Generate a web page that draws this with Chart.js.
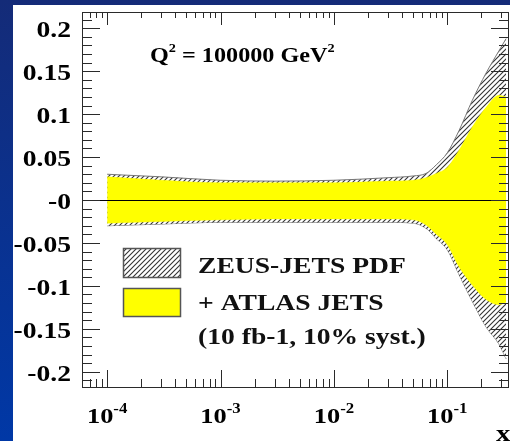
<!DOCTYPE html>
<html>
<head>
<meta charset="utf-8">
<script src="https://cdn.jsdelivr.net/npm/chart.js@4.4.1/dist/chart.umd.min.js"></script>
<style>
  html, body { margin: 0; padding: 0; background: #0a2f8f; }
  #wrap { width: 510px; height: 441px; }
</style>
</head>
<body>
<div id="wrap"><canvas id="c" width="510" height="441"></canvas></div>
<script>
// ─── data ───────────────────────────────────────────────────────
const xValues   = [1e-4, 3e-4, 1e-3, 3e-3, 0.01, 0.03, 0.05, 0.065, 0.08, 0.1, 0.127, 0.166, 0.22, 0.286, 0.33];
const zeusUp    = [0.030, 0.027, 0.023, 0.022, 0.023, 0.026, 0.028, 0.031, 0.041, 0.055, 0.081, 0.116, 0.148, 0.174, 0.188];
const zeusDown  = [-0.030, -0.028, -0.026, -0.026, -0.026, -0.026, -0.027, -0.033, -0.045, -0.058, -0.087, -0.118, -0.148, -0.168, -0.185];
const atlasUp   = [0.027, 0.023, 0.020, 0.020, 0.020, 0.022, 0.023, 0.026, 0.031, 0.038, 0.058, 0.085, 0.108, 0.122, 0.120];
const atlasDown = [-0.027, -0.025, -0.023, -0.022, -0.022, -0.022, -0.023, -0.029, -0.040, -0.052, -0.078, -0.099, -0.116, -0.122, -0.119];

const xMajorTicks = [1e-4, 1e-3, 1e-2, 1e-1];
const xTickExps   = ['-4', '-3', '-2', '-1'];
const yTickValues = [0.2, 0.15, 0.1, 0.05, 0, -0.05, -0.1, -0.15, -0.2];
const yTickLabels = ['0.2', '0.15', '0.1', '0.05', '-0', '-0.05', '-0.1', '-0.15', '-0.2'];

const X_MIN = 6e-5, X_MAX = 0.35, Y_MIN = -0.219, Y_MAX = 0.219;
const FONT = "'Liberation Serif', 'Times New Roman', serif";
const SX = 1.2; // the original lettering is stretched sideways

const pts = (ys) => xValues.map((x, i) => ({ x, y: ys[i] }));

function hatchPattern() {
  const s = 5;
  const p = document.createElement('canvas');
  p.width = s; p.height = s;
  const g = p.getContext('2d');
  g.fillStyle = '#ffffff';
  g.fillRect(0, 0, s, s);
  g.strokeStyle = '#333';
  g.lineWidth = 1.1;
  g.beginPath();
  g.moveTo(0, s); g.lineTo(s, 0);
  g.moveTo(-1, 1); g.lineTo(1, -1);
  g.moveTo(s - 1, s + 1); g.lineTo(s + 1, s - 1);
  g.stroke();
  return g.createPattern(p, 'repeat');
}
const hatch = hatchPattern();

// stretched text, anchored at (x, y) with the current textAlign
function text(ctx, t, x, y, size, sx = SX) {
  ctx.font = `bold ${size}px ${FONT}`;
  ctx.save();
  ctx.translate(x, y);
  ctx.scale(sx, 1);
  ctx.fillText(t, 0, 0);
  ctx.restore();
  return ctx.measureText(t).width * sx;
}

// ─── frame, ticks and text (ROOT style, ticks inward) ───────────
const rootFrame = {
  id: 'rootFrame',
  beforeDraw(chart) {
    const ctx = chart.ctx;
    ctx.save();
    const bg = ctx.createLinearGradient(0, 0, 0, chart.height);
    bg.addColorStop(0, '#142b78');
    bg.addColorStop(1, '#0038a6');
    ctx.fillStyle = bg;
    ctx.fillRect(0, 0, chart.width, chart.height);
    ctx.fillStyle = '#ffffff';
    ctx.fillRect(13, 5, chart.width - 13, chart.height - 5);
    ctx.restore();
  },
  afterDatasetsDraw(chart) {
    const { ctx, chartArea: a, scales } = chart;
    const y0 = Math.round(scales.y.getPixelForValue(0)) + 0.5;
    ctx.save();
    ctx.strokeStyle = '#000';
    ctx.lineWidth = 1;
    ctx.beginPath();
    ctx.moveTo(a.left, y0);
    ctx.lineTo(a.right, y0);
    ctx.stroke();
    ctx.restore();
  },
  afterDraw(chart) {
    const { ctx, chartArea: a, scales } = chart;
    const xs = scales.x, ys = scales.y;
    ctx.save();
    ctx.strokeStyle = '#2a2a2a';
    ctx.lineWidth = 1;
    ctx.strokeRect(a.left + 0.5, a.top + 0.5, a.right - a.left - 1, a.bottom - a.top - 1);

    ctx.beginPath();
    // y ticks, every 0.01, long every 0.05
    for (let k = -22; k <= 22; k++) {
      const y = Math.round(ys.getPixelForValue(k / 100)) + 0.5;
      if (y < a.top + 1 || y > a.bottom - 1) continue;
      const len = k % 5 === 0 ? 18 : 10;
      ctx.moveTo(a.left, y); ctx.lineTo(a.left + len, y);
      ctx.moveTo(a.right, y); ctx.lineTo(a.right - len, y);
    }
    // x ticks, log decades
    for (let e = -5; e <= 0; e++) {
      for (let m = 1; m <= 9; m++) {
        const v = m * Math.pow(10, e);
        if (v < X_MIN || v > X_MAX) continue;
        const x = Math.round(xs.getPixelForValue(v)) + 0.5;
        const major = m === 1;
        ctx.moveTo(x, a.bottom); ctx.lineTo(x, a.bottom - (major ? 18 : 9));
        ctx.moveTo(x, a.top); ctx.lineTo(x, a.top + (major ? 13 : 6));
      }
    }
    ctx.stroke();

    ctx.fillStyle = '#000';
    // y labels
    ctx.textAlign = 'right';
    ctx.textBaseline = 'middle';
    yTickValues.forEach((v, i) => {
      text(ctx, yTickLabels[i], a.left - 11, ys.getPixelForValue(v) + 3, 23);
    });
    // x labels 10^n
    ctx.textBaseline = 'alphabetic';
    ctx.textAlign = 'left';
    xMajorTicks.forEach((v, i) => {
      ctx.font = `bold 22px ${FONT}`;
      const w1 = ctx.measureText('10').width * SX;
      ctx.font = `bold 14px ${FONT}`;
      const w2 = ctx.measureText(xTickExps[i]).width * SX;
      const x0 = xs.getPixelForValue(v) - (w1 + w2) / 2;
      text(ctx, '10', x0, 423, 22);
      text(ctx, xTickExps[i], x0 + w1, 413, 14);
    });
    text(ctx, 'x', 496, 441, 24);

    // Q^2 label
    let x = 150;
    const base = 62;
    x += text(ctx, 'Q', x, base, 22, 1.1);
    x += text(ctx, '2', x, base - 10, 13, 1.1);
    x += text(ctx, ' = 100000 GeV', x, base, 22, 1.1);
    text(ctx, '2', x, base - 10, 13, 1.1);

    // legend
    ctx.lineWidth = 1.5;
    ctx.strokeStyle = '#555';
    ctx.fillStyle = hatch;
    ctx.fillRect(123, 248, 57, 29);
    ctx.strokeRect(123.5, 248.5, 57, 29);
    ctx.fillStyle = '#ffff00';
    ctx.fillRect(123, 288, 57, 28);
    ctx.strokeRect(123.5, 288.5, 57, 28);
    ctx.fillStyle = '#111';
    text(ctx, 'ZEUS-JETS PDF', 198, 273, 23);
    text(ctx, '+ ATLAS JETS', 198, 310, 23);
    text(ctx, '(10 fb-1, 10% syst.)', 198, 344, 23);
    ctx.restore();
  },
};

const band = { tension: 0.35, cubicInterpolationMode: 'monotone', pointRadius: 0 };

new Chart(document.getElementById('c'), {
  type: 'line',
  data: {
    datasets: [
      { ...band, label: '+ ATLAS JETS', data: pts(atlasUp), fill: '+1', backgroundColor: '#ffff00', borderColor: '#ffff00', borderWidth: 0.5 },
      { ...band, label: 'atlas low', data: pts(atlasDown), fill: false, borderColor: '#ffff00', borderWidth: 0.5 },
      { ...band, label: 'ZEUS-JETS PDF', data: pts(zeusUp), fill: '+1', backgroundColor: hatch, borderColor: '#777', borderWidth: 1 },
      { ...band, label: 'zeus low', data: pts(zeusDown), fill: false, borderColor: '#777', borderWidth: 1 },
    ],
  },
  options: {
    responsive: false,
    animation: false,
    layout: { padding: { left: 82, right: 1, top: 12, bottom: 53 } },
    plugins: { legend: { display: false }, tooltip: { enabled: false } },
    scales: {
      x: { type: 'logarithmic', min: X_MIN, max: X_MAX, display: false },
      y: { type: 'linear', min: Y_MIN, max: Y_MAX, display: false },
    },
  },
  plugins: [rootFrame],
});
</script>
</body>
</html>
